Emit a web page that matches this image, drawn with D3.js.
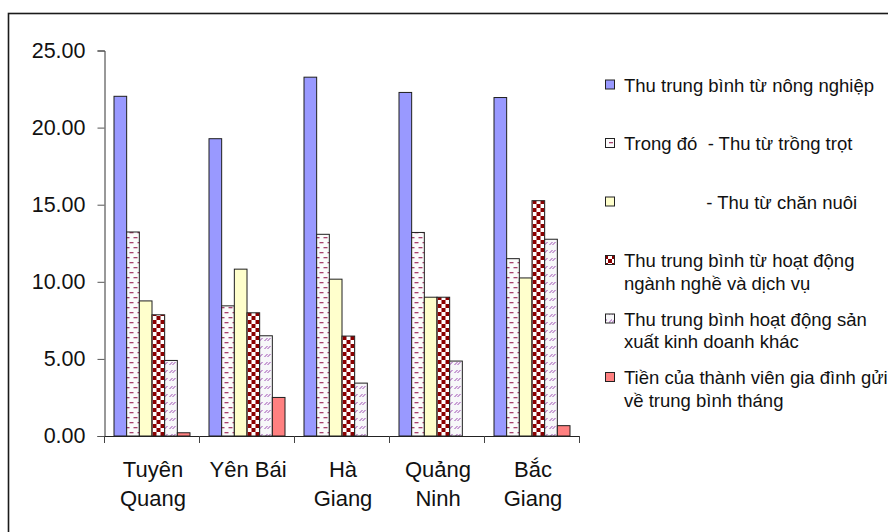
<!DOCTYPE html>
<html>
<head>
<meta charset="utf-8">
<script src="https://cdn.jsdelivr.net/npm/d3@7/dist/d3.min.js"></script>
<style>
  html, body { margin: 0; padding: 0; background: #fff; }
  svg { display: block; font-family: "Liberation Sans", Arial, sans-serif; }
  .legend text { white-space: pre; }
</style>
</head>
<body>
<svg id="chart" width="888" height="532"></svg>
<script>
// Provinces (category axis); "\n" marks a line break in the label
const provinces = ["Tuyên\nQuang", "Yên Bái", "Hà\nGiang", "Quảng\nNinh", "Bắc\nGiang"];

// Series names as shown in the legend
const seriesNames = [
  "Thu trung bình từ nông nghiệp",
  "Trong đó  - Thu từ trồng trọt",
  "                - Thu từ chăn nuôi",
  "Thu trung bình từ hoạt động\nngành nghề và dịch vụ",
  "Thu trung bình hoạt động sản\nxuất kinh doanh khác",
  "Tiền của thành viên gia đình gửi\nvề trung bình tháng"
];

// Values per series, one entry per province
const agriculture   = [22.03, 19.28, 23.27, 22.28, 21.95];
const cropping      = [13.23,  8.44, 13.08, 13.20, 11.50];
const livestock     = [ 8.76, 10.82, 10.17,  9.00, 10.25];
const tradesService = [ 7.86,  7.99,  6.48,  9.00, 15.26];
const otherBusiness = [ 4.90,  6.50,  3.43,  4.86, 12.76];
const remittances   = [ 0.21,  2.50,  0.00,  0.00,  0.67];

const seriesValues = [agriculture, cropping, livestock, tradesService, otherBusiness, remittances];

// Value axis ticks
const yTicks = [0, 5, 10, 15, 20, 25];

const svg = d3.select("#chart");
const defs = svg.append("defs");

// Fill patterns
const pDash = defs.append("pattern").attr("id", "pat-dash")
  .attr("patternUnits", "userSpaceOnUse").attr("width", 8).attr("height", 10);
pDash.append("rect").attr("width", 8).attr("height", 10).attr("fill", "#fbfbfb");
pDash.append("rect").attr("x", 1).attr("y", 2).attr("width", 4).attr("height", 1.3).attr("fill", "#a8426e");
pDash.append("rect").attr("x", 5).attr("y", 7).attr("width", 3).attr("height", 1.3).attr("fill", "#a8426e");
pDash.append("rect").attr("x", 0).attr("y", 7).attr("width", 1).attr("height", 1.3).attr("fill", "#a8426e");

const pCheck = defs.append("pattern").attr("id", "pat-check")
  .attr("patternUnits", "userSpaceOnUse").attr("width", 8).attr("height", 8);
pCheck.append("rect").attr("width", 8).attr("height", 8).attr("fill", "#ffffff");
pCheck.append("rect").attr("x", 0).attr("y", 0).attr("width", 4).attr("height", 4).attr("fill", "#8b0000");
pCheck.append("rect").attr("x", 4).attr("y", 4).attr("width", 4).attr("height", 4).attr("fill", "#8b0000");

const pHatch = defs.append("pattern").attr("id", "pat-hatch")
  .attr("patternUnits", "userSpaceOnUse").attr("width", 8).attr("height", 8);
pHatch.append("rect").attr("width", 8).attr("height", 8).attr("fill", "#f7f7f9");
pHatch.append("path").attr("d", "M1,5 L4,2 M4,5 L7,2")
  .attr("stroke", "#9b49b0").attr("stroke-width", 1);

const seriesFills = ["#9999ff", "url(#pat-dash)", "#ffffcc", "url(#pat-check)", "url(#pat-hatch)", "#ff8080"];

// Outer chart frame
svg.append("rect")
  .attr("x", 8.5).attr("y", 13.5).attr("width", 900).attr("height", 600)
  .attr("fill", "none").attr("stroke", "#1a1a1a").attr("stroke-width", 1.6);

// Scales
const x0 = d3.scaleBand().domain(d3.range(provinces.length)).range([104.5, 579.5]).padding(0);
const x1 = d3.scaleBand().domain(d3.range(seriesValues.length)).range([0, x0.bandwidth()])
  .paddingInner(0).paddingOuter(0.75);
const y = d3.scaleLinear().domain([0, 25]).range([436, 50.5]);

// Bars
const groups = svg.append("g").selectAll("g")
  .data(provinces.map((p, i) => i))
  .join("g")
  .attr("transform", i => `translate(${x0(i)},0)`);

groups.selectAll("rect")
  .data(i => seriesValues.map((vals, s) => ({ s, v: vals[i] })).filter(d => d.v > 0))
  .join("rect")
  .attr("x", d => x1(d.s))
  .attr("y", d => y(d.v))
  .attr("width", x1.bandwidth())
  .attr("height", d => y(0) - y(d.v))
  .attr("fill", d => seriesFills[d.s])
  .attr("stroke", "#1f1f1f")
  .attr("stroke-width", 1);

// Value axis
const yAxis = svg.append("g")
  .attr("transform", "translate(104.5,0)")
  .call(d3.axisLeft(y).tickValues(yTicks).tickFormat(d3.format(".2f")).tickSize(7).tickPadding(12));
yAxis.select(".domain").attr("stroke", "#333");
yAxis.selectAll(".tick line").attr("stroke", "#555");
yAxis.selectAll(".tick text")
  .attr("font-family", "'Liberation Sans', Arial, sans-serif")
  .attr("font-size", 21.5).attr("fill", "#111");

// Category axis
const xAxisG = svg.append("g");
xAxisG.append("line")
  .attr("x1", x0.range()[0]).attr("x2", x0.range()[1])
  .attr("y1", y(0) + 0.5).attr("y2", y(0) + 0.5)
  .attr("stroke", "#222");
xAxisG.selectAll("line.tk")
  .data(d3.range(provinces.length + 1))
  .join("line").attr("class", "tk")
  .attr("x1", i => x0.range()[0] + i * x0.step())
  .attr("x2", i => x0.range()[0] + i * x0.step())
  .attr("y1", y(0)).attr("y2", y(0) + 7)
  .attr("stroke", "#444");

const catText = xAxisG.selectAll("text")
  .data(provinces.map((p, i) => ({ p, i })))
  .join("text")
  .attr("text-anchor", "middle")
  .attr("font-size", 22)
  .attr("fill", "#111");
catText.each(function(d) {
  const t = d3.select(this);
  d.p.split("\n").forEach((line, k) => {
    t.append("tspan")
      .attr("x", x0(d.i) + x0.bandwidth() / 2 + 1)
      .attr("y", 477 + k * 29)
      .text(line);
  });
});

// Legend
const legend = svg.append("g").attr("class", "legend");
const items = legend.selectAll("g")
  .data(seriesNames.map((name, s) => ({ name, s })))
  .join("g")
  .attr("transform", d => `translate(0,${91.5 + d.s * 58.5})`);

items.append("rect")
  .attr("x", 605.5).attr("y", -11.5).attr("width", 9).attr("height", 9)
  .attr("fill", d => seriesFills[d.s])
  .attr("stroke", "#222").attr("stroke-width", 1);

items.append("text")
  .attr("font-size", 18.5)
  .attr("fill", "#111")
  .each(function(d) {
    const t = d3.select(this);
    d.name.split("\n").forEach((line, k) => {
      t.append("tspan").attr("x", 624).attr("y", k * 22.5).text(line);
    });
  });
</script>
</body>
</html>
